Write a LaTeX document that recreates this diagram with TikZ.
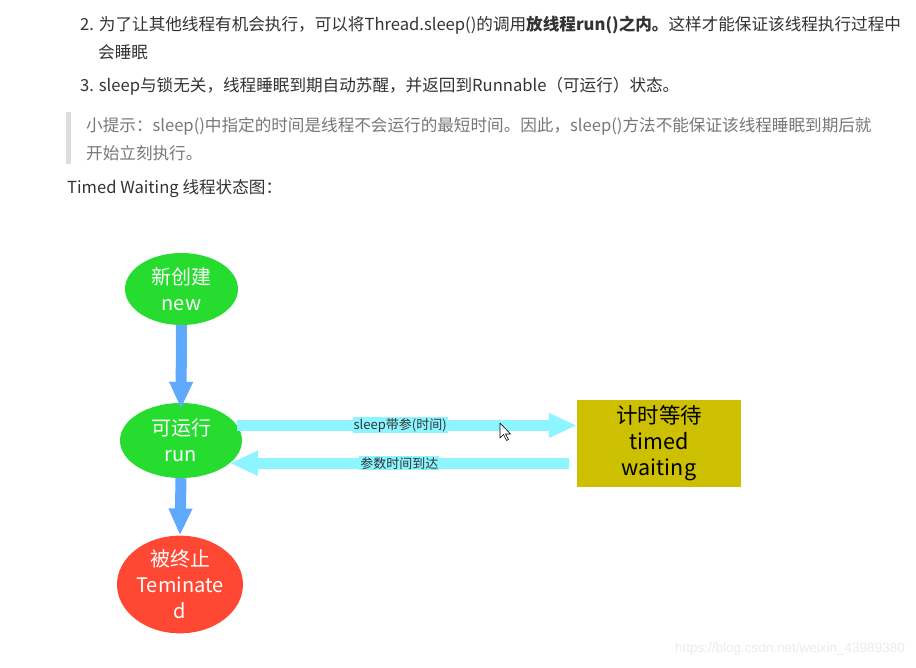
\documentclass[tikz,border=0pt]{standalone}
\usepackage{fontspec}
\setmainfont{Noto Sans CJK SC}
\newfontfamily\wmfont{Liberation Sans}
\usetikzlibrary{arrows.meta,shapes.geometric}
\definecolor{stgreen}{RGB}{38,220,46}
\definecolor{stred}{RGB}{255,72,52}
\definecolor{stblue}{RGB}{95,170,255}
\definecolor{stcyan}{RGB}{140,245,255}
\definecolor{stolive}{RGB}{205,192,0}
\definecolor{bodytext}{RGB}{51,51,51}
\definecolor{quotetext}{RGB}{119,119,119}
\definecolor{quotebar}{RGB}{221,221,221}
\begin{document}
\begin{tikzpicture}[x=1pt,y=-1pt,
  bodyline/.style={anchor=west,inner sep=0pt,text=bodytext,font=\fontsize{16.6}{19}\selectfont},
  quoteline/.style={bodyline,text=quotetext},
  statenode/.style={ellipse,inner sep=0pt,text=white,align=center,font=\fontsize{20}{26}\selectfont},
  bluearrow/.style={draw=stblue,line width=11pt,-{Triangle[length=27pt,width=22pt]}},
  cyanarrow/.style={draw=stcyan,line width=11pt,-{Triangle[length=28pt,width=23pt]}},
  arrowlabel/.style={fill=stcyan,inner sep=1pt,text=bodytext,font=\fontsize{13}{15}\selectfont}]
\useasboundingbox[fill=white] (0,0) rectangle (916,667);

% text block
\node[bodyline] (l2) at (80,25) {2. 为了让其他线程有机会执行，可以将Thread.sleep()的调用\textbf{放线程run()之内。}这样才能保证该线程执行过程中};
\node[bodyline] (l2b) at (98,52) {会睡眠};
\node[bodyline] (l3) at (80,86) {3. sleep与锁无关，线程睡眠到期自动苏醒，并返回到Runnable（可运行）状态。};
\fill[quotebar] (66,112) rectangle (71,164);
\node[quoteline] (q1) at (86,126) {小提示：sleep()中指定的时间是线程不会运行的最短时间。因此，sleep()方法不能保证该线程睡眠到期后就};
\node[quoteline] (q2) at (86,153) {开始立刻执行。};
\node[bodyline] (hd) at (67,189) {Timed Waiting 线程状态图：};

% states
\node[statenode,fill=stgreen,minimum width=113pt,minimum height=72pt] (new) at (181.5,289) {新创建\\new};
\node[statenode,fill=stgreen,minimum width=122pt,minimum height=75pt] (run) at (181,440.5) {可运行\\run};
\node[statenode,fill=stred,minimum width=126pt,minimum height=85pt] (term) at (180,584.5) {被终止\\Teminate\\d};
\node[rectangle,fill=stolive,minimum width=164pt,minimum height=87pt,inner sep=0pt,align=center,
      font=\fontsize{21.5}{26}\selectfont,text=black] (wait) at (659,443.5) {计时等待\\timed\\waiting};

% arrows
\draw[bluearrow] (new.south) -- ([yshift=-6pt]run.north);
\draw[bluearrow] (run.south) -- (term.north);
\draw[cyanarrow] (run.15) -- node[arrowlabel,pos=0.48] (lbl1) {sleep带参(时间)} (run.15 -| wait.west);
\draw[cyanarrow] ([xshift=-8pt]run.-25 -| wait.west) -- node[arrowlabel,pos=0.5] (lbl2) {参数时间到达} (run.-25);

% mouse cursor
\coordinate (cur) at (500,423);
\draw[black,fill=white,line width=0.6pt,line join=round] (cur) -- ++(0,15) -- ++(3.5,-3.5) -- ++(3,6) -- ++(2,-1) -- ++(-3,-5.5) -- ++(5,0) -- cycle;

% watermark
\node[anchor=east,inner sep=0pt,text={rgb,255:red,236;green,236;blue,236},font=\wmfont\fontsize{13.5}{16}\selectfont] (wm) at (905,649) {https://blog.csdn.net/weixin\_43989380};
\end{tikzpicture}
\end{document}
